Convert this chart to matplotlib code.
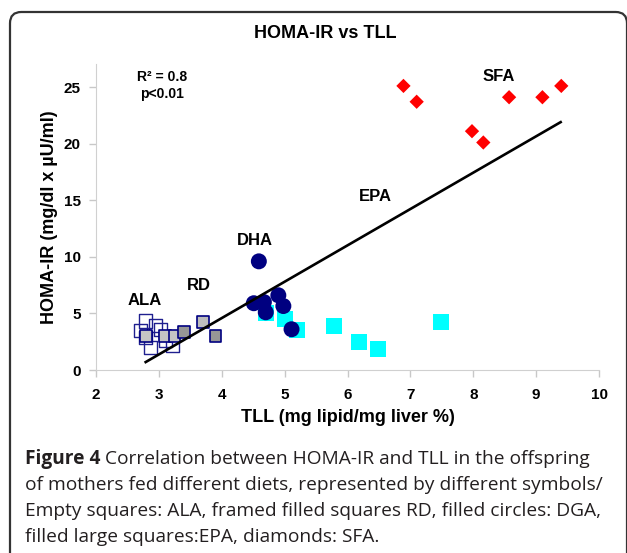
import numpy as np
import matplotlib
matplotlib.use("Agg")
import matplotlib.pyplot as plt
from matplotlib.patches import FancyBboxPatch

plt.rcParams["font.family"] = ["Liberation Sans", "DejaVu Sans"]

# ── data ─────────────────────────────────────────────
ala_x = [2.78, 2.94, 3.02, 2.79, 2.86, 3.22, 2.71, 3.11]
ala_y = [4.33, 3.9, 3.6, 2.9, 2.0, 2.2, 3.5, 2.65]

rd_x = [2.79, 3.10, 3.25, 3.40, 3.70, 3.90]
rd_y = [3.0, 3.0, 3.0, 3.35, 4.25, 3.0]
rd_fill = ["#c4c4c4", "#c4c4c4", "#c4c4c4", "#969696", "#bdbdbd", "#969696"]

epa_x = [4.70, 5.00, 5.20, 5.79, 6.19, 6.49, 7.49]
epa_y = [5.0, 4.5, 3.5, 3.9, 2.5, 1.85, 4.2]

dha_x = [4.59, 4.51, 4.67, 4.90, 4.70, 4.98, 5.11]
dha_y = [9.6, 5.9, 6.0, 6.6, 5.1, 5.65, 3.6]

sfa_x = [6.89, 7.10, 7.98, 8.16, 8.57, 9.10, 9.40]
sfa_y = [25.1, 23.7, 21.1, 20.1, 24.1, 24.1, 25.1]

trend_x = [2.79, 9.39]
trend_y = [0.7, 21.9]

xticks = [2, 3, 4, 5, 6, 7, 8, 9, 10]
yticks = [0, 5, 10, 15, 20, 25]

group_labels = ["SFA", "EPA", "DHA", "RD", "ALA"]
label_pos = [(8.40, 25.97), (6.44, 15.37), (4.52, 11.4), (3.63, 7.5), (2.78, 6.1)]

cap_head = "Figure 4"
caption = [
    " Correlation between HOMA-IR and TLL in the offspring",
    "of mothers fed different diets, represented by different symbols/",
    "Empty squares: ALA, framed filled squares RD, filled circles: DGA,",
    "filled large squares:EPA, diamonds: SFA.",
]

# ── figure ───────────────────────────────────────────
W, H = 627, 553
fig = plt.figure(figsize=(W / 100, H / 100), dpi=100)

# rounded frame around chart + caption
frame = FancyBboxPatch((10 / W, -0.05), (627 - 10) / W, (H - 12) / H + 0.05,
                       boxstyle="round,pad=0,rounding_size=0.018",
                       transform=fig.transFigure, fill=False,
                       edgecolor="#333333", lw=1.6, mutation_aspect=W / H)
fig.patches.append(frame)

ax = fig.add_axes([96 / W, 1 - 370 / H, (599 - 96) / W, (370 - 64.4) / H])

ax.scatter(ala_x, ala_y, marker="s", s=88, facecolors="none",
           edgecolors="#1f1f8f", linewidths=1.0, zorder=2)
ax.scatter(rd_x, rd_y, marker="s", s=72, c=rd_fill,
           edgecolors="#000080", linewidths=1.2, zorder=3)
ax.scatter(epa_x, epa_y, marker="s", s=132, c="#00ffff",
           edgecolors="none", zorder=3)
ax.scatter(dha_x, dha_y, marker="o", s=132, c="#000080",
           edgecolors="none", zorder=4)
ax.scatter(sfa_x, sfa_y, marker="D", s=53, c="#ff0000",
           edgecolors="none", zorder=4)
ax.plot(trend_x, trend_y, color="black", lw=1.9, zorder=5)

for lab, (lx, ly) in zip(group_labels, label_pos):
    ax.text(lx, ly, lab, fontsize=12, fontweight="bold",
            ha="center", va="center")

ax.text(3.05, 25.9, "R² = 0.8", fontsize=10, fontweight="bold",
        ha="center", va="center")
ax.text(3.05, 24.4, "p<0.01", fontsize=10, fontweight="bold",
        ha="center", va="center")

ax.set_xlim(2, 10)
ax.set_ylim(0, 27)
ax.set_xticks(xticks)
ax.set_yticks(yticks)
ax.tick_params(colors="#c8c8c8", length=5, width=1,
               labelcolor="black", labelsize=11)
for lbl in ax.get_xticklabels() + ax.get_yticklabels():
    lbl.set_fontweight("bold")
ax.tick_params(axis="x", pad=8)
ax.tick_params(axis="y", pad=6)
for side in ["top", "right"]:
    ax.spines[side].set_visible(False)
for side in ["left", "bottom"]:
    ax.spines[side].set_color("#d0d0d0")

ax.set_xlabel("TLL (mg lipid/mg liver %)", fontsize=13, fontweight="bold",
              labelpad=5)
ax.set_ylabel("HOMA-IR (mg/dl x µU/ml)", fontsize=13, fontweight="bold",
              labelpad=4)

fig.text(325 / W, 1 - 34 / H, "HOMA-IR vs TLL", fontsize=13,
         fontweight="bold", ha="center", va="center")

# caption: bold head + regular text on the first line
cap_font = ["Open Sans", "DejaVu Sans"]
cap_col = "#231f20"
cap_size = 13.8
t0 = fig.text(25 / W, 1 - 459 / H, cap_head, fontsize=cap_size,
              fontweight="bold", family=cap_font, color=cap_col,
              ha="left", va="center")
fig.canvas.draw()
bb = t0.get_window_extent()
fig.text(bb.x1 / W, 1 - 459 / H, caption[0], fontsize=cap_size,
         family=cap_font, color=cap_col, ha="left", va="center")
for i, line in enumerate(caption[1:]):
    fig.text(25 / W, 1 - (485 + 26 * i) / H, line, fontsize=cap_size,
             family=cap_font, color=cap_col, ha="left", va="center")

fig.savefig("out.png", dpi=100)
